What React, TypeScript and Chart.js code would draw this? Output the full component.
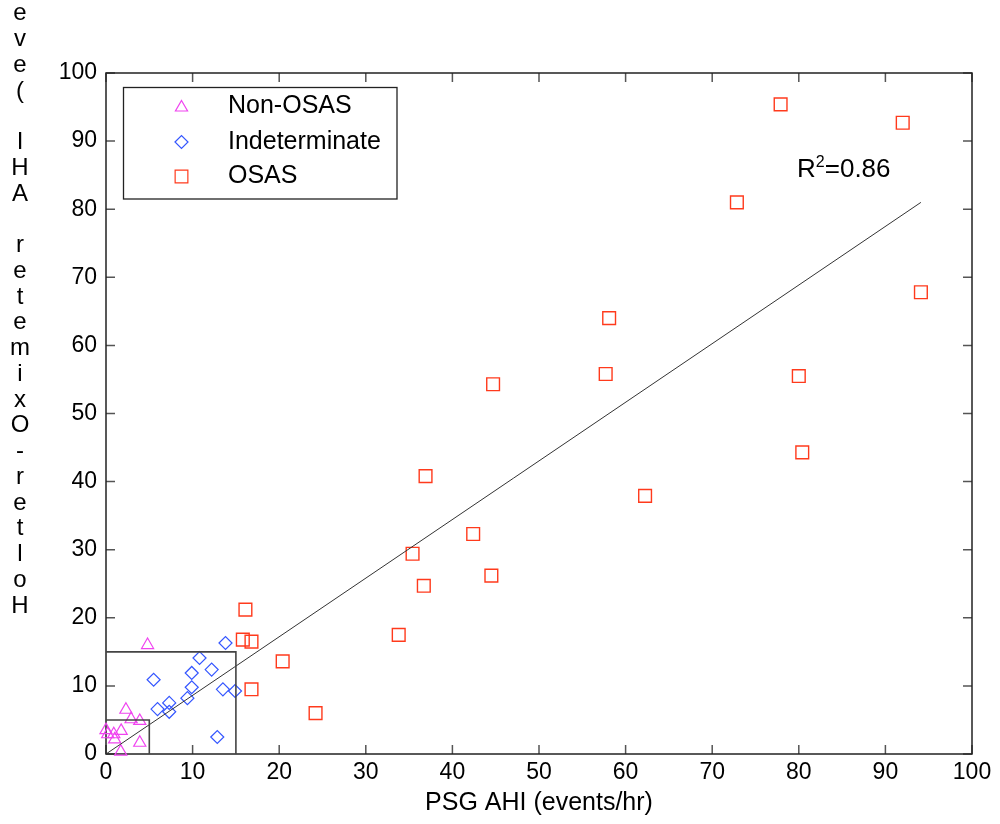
import React, { useEffect, useRef } from 'react';
import { Chart, registerables } from 'chart.js';
import { drawPoint } from 'chart.js/helpers';

Chart.register(...registerables);

// ---- data ----
const nonOsasX = [4.8, 2.3, 2.9, 3.9, 0.0, 1.75, 0.2, 0.9, 1.0, 3.9, 1.7];
const nonOsasY = [16.0, 6.5, 5.1, 4.85, 3.5, 3.4, 2.9, 2.9, 2.15, 1.65, 0.35];

const indetX = [13.8, 10.8, 9.9, 12.2, 5.5, 9.9, 13.5, 14.9, 9.4, 7.3, 5.95, 7.3, 12.85];
const indetY = [16.3, 14.1, 11.9, 12.4, 10.9, 9.8, 9.5, 9.25, 8.2, 7.5, 6.6, 6.2, 2.5];

const osasX = [77.9, 92.0, 72.85, 94.1, 58.1, 57.7, 44.7, 80.0, 80.4, 62.25, 36.9, 42.4, 35.4, 44.5, 36.7, 33.8, 16.1, 15.8, 16.8, 20.4, 16.8, 24.2];
const osasY = [95.4, 92.7, 81.0, 67.8, 64.0, 55.8, 54.3, 55.5, 44.3, 37.9, 40.8, 32.3, 29.4, 26.2, 24.7, 17.5, 21.2, 16.8, 16.5, 13.6, 9.5, 6.0];

const fitX = [0, 94.1];
const fitY = [0, 81.0];

const boxLimits = [5, 15];

const tickValues = [0, 10, 20, 30, 40, 50, 60, 70, 80, 90, 100];

const seriesNames = ['Non-OSAS', 'Indeterminate', 'OSAS'];
const xTitle = 'PSG AHI (events/hr)';
const yTitle = 'Holter-Oximeter AHI (events/hr)';
const r2Label = ['R', '2', '=0.86'];

const FONT = '"Liberation Sans", Arial, Helvetica, sans-serif';
const C_TRI = '#f044f0';
const C_DIA = '#3456ff';
const C_SQ = '#ff3a1c';

const pts = (xs: number[], ys: number[]) => xs.map((x, i) => ({ x, y: ys[i] }));

export default function App() {
  const ref = useRef<HTMLCanvasElement>(null);

  useEffect(() => {
    document.body.style.margin = '0';
    const canvas = ref.current!;

    const overlay = {
      id: 'overlay',
      beforeDatasetsDraw(chart: any) {
        const ctx = chart.ctx;
        const a = chart.chartArea;
        const xs = chart.scales.x;
        const ys = chart.scales.y;
        ctx.save();
        ctx.strokeStyle = '#555';
        ctx.lineWidth = 1.5;
        const tl = 9;
        tickValues.forEach((v) => {
          const px = xs.getPixelForValue(v);
          ctx.beginPath();
          ctx.moveTo(px, a.bottom);
          ctx.lineTo(px, a.bottom - tl);
          ctx.moveTo(px, a.top);
          ctx.lineTo(px, a.top + tl);
          ctx.stroke();
          const py = ys.getPixelForValue(v);
          ctx.beginPath();
          ctx.moveTo(a.left, py);
          ctx.lineTo(a.left + tl, py);
          ctx.moveTo(a.right, py);
          ctx.lineTo(a.right - tl, py);
          ctx.stroke();
        });
        ctx.strokeStyle = '#222';
        ctx.lineWidth = 1.5;
        ctx.strokeRect(a.left, a.top, a.right - a.left, a.bottom - a.top);
        ctx.restore();
      },
      afterDraw(chart: any) {
        const ctx = chart.ctx;
        const xs = chart.scales.x;
        const ys = chart.scales.y;
        ctx.save();
        // legend box
        const lx = 123.5, ly = 87.5, lw = 273.5, lh = 111.5;
        ctx.fillStyle = '#fff';
        ctx.fillRect(lx, ly, lw, lh);
        ctx.strokeStyle = '#222';
        ctx.lineWidth = 1.3;
        ctx.strokeRect(lx, ly, lw, lh);
        const styles = [
          { s: 'triangle', r: 7, c: C_TRI },
          { s: 'rectRot', r: 6.5, c: C_DIA },
          { s: 'rect', r: 9, c: C_SQ },
        ];
        const rowY = [106, 142, 176.5];
        styles.forEach((st, i) => {
          ctx.strokeStyle = st.c;
          ctx.fillStyle = 'rgba(0,0,0,0)';
          ctx.lineWidth = 1.2;
          drawPoint(ctx, { pointStyle: st.s as any, radius: st.r, borderWidth: 1.2, rotation: 0 } as any, 181.5, rowY[i] + (i === 0 ? 1.5 : 0));
          ctx.fillStyle = '#000';
          ctx.font = `25px ${FONT}`;
          ctx.textBaseline = 'middle';
          ctx.textAlign = 'left';
          ctx.fillText(seriesNames[i], 228, rowY[i]);
        });
        // R^2 annotation
        let tx = xs.getPixelForValue(79.8);
        const ty = ys.getPixelForValue(84.7);
        ctx.fillStyle = '#000';
        ctx.textBaseline = 'alphabetic';
        ctx.textAlign = 'left';
        ctx.font = `26px ${FONT}`;
        ctx.fillText(r2Label[0], tx, ty);
        tx += ctx.measureText(r2Label[0]).width;
        ctx.font = `16px ${FONT}`;
        ctx.fillText(r2Label[1], tx, ty - 10);
        tx += ctx.measureText(r2Label[1]).width;
        ctx.font = `26px ${FONT}`;
        ctx.fillText(r2Label[2], tx, ty);
        // stacked y title (bottom to top)
        ctx.font = `24px ${FONT}`;
        ctx.textAlign = 'center';
        ctx.textBaseline = 'middle';
        for (let i = 0; i < yTitle.length; i++) {
          const y = 606 - i * 25.75;
          if (y < -20) break;
          ctx.fillText(yTitle[i], 20, y);
        }
        ctx.restore();
      },
    };

    const chart = new Chart(canvas, {
      type: 'scatter',
      data: {
        datasets: [
          {
            label: 'box5',
            data: [
              { x: 0, y: boxLimits[0] },
              { x: boxLimits[0], y: boxLimits[0] },
              { x: boxLimits[0], y: 0 },
            ],
            showLine: true,
            borderColor: '#444',
            borderWidth: 1.6,
            pointRadius: 0,
            clip: false,
          } as any,
          {
            label: 'box15',
            data: [
              { x: 0, y: boxLimits[1] },
              { x: boxLimits[1], y: boxLimits[1] },
              { x: boxLimits[1], y: 0 },
            ],
            showLine: true,
            borderColor: '#444',
            borderWidth: 1.6,
            pointRadius: 0,
            clip: false,
          },
          {
            label: 'fit',
            data: pts(fitX, fitY),
            showLine: true,
            borderColor: '#333',
            borderWidth: 1,
            pointRadius: 0,
            clip: false,
          },
          {
            label: seriesNames[0],
            data: pts(nonOsasX, nonOsasY),
            pointStyle: 'triangle',
            pointRadius: 7,
            borderColor: C_TRI,
            backgroundColor: 'rgba(0,0,0,0)',
            borderWidth: 1.2,
            clip: false,
          },
          {
            label: seriesNames[1],
            data: pts(indetX, indetY),
            pointStyle: 'rectRot',
            pointRadius: 6.5,
            borderColor: C_DIA,
            backgroundColor: 'rgba(0,0,0,0)',
            borderWidth: 1.2,
            clip: false,
          },
          {
            label: seriesNames[2],
            data: pts(osasX, osasY),
            pointStyle: 'rect',
            pointRadius: 9,
            borderColor: C_SQ,
            backgroundColor: 'rgba(0,0,0,0)',
            borderWidth: 1.4,
            clip: false,
          },
        ],
      },
      options: {
        animation: false,
        responsive: false,
        layout: { padding: { left: 0, right: 28, top: 73, bottom: 0 } },
        plugins: { legend: { display: false }, tooltip: { enabled: false } },
        scales: {
          x: {
            type: 'linear',
            min: 0,
            max: 100,
            grid: { display: false, drawTicks: false },
            border: { display: false },
            afterBuildTicks: (s: any) => { s.ticks = tickValues.map((v) => ({ value: v })); },
            afterFit: (s: any) => { s.height = 70; },
            ticks: {
              color: '#000',
              font: { size: 23, family: FONT },
              padding: 5,
              maxRotation: 0,
              autoSkip: false,
            },
            title: {
              display: true,
              text: xTitle,
              color: '#000',
              font: { size: 25, family: FONT },
              padding: { top: 0, bottom: 6 },
            },
          },
          y: {
            type: 'linear',
            min: 0,
            max: 100,
            grid: { display: false, drawTicks: false },
            border: { display: false },
            afterBuildTicks: (s: any) => { s.ticks = tickValues.map((v) => ({ value: v })); },
            afterFit: (s: any) => { s.width = 106; },
            ticks: {
              color: '#000',
              font: { size: 23, family: FONT },
              padding: 9,
              autoSkip: false,
            },
          },
        },
      },
      plugins: [overlay],
    });

    return () => chart.destroy();
  }, []);

  return (
    <div style={{ width: 1000, height: 824, position: 'relative', background: '#fff' }}>
      <canvas ref={ref} width={1000} height={824} style={{ width: 1000, height: 824, display: 'block' }} />
    </div>
  );
}
